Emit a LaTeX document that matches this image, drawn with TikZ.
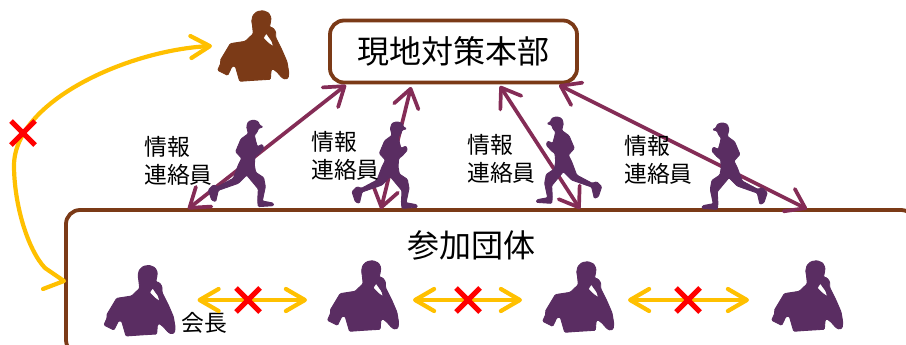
\documentclass[tikz,border=0pt]{standalone}
\usepackage{fontspec}
\setmainfont{Noto Sans CJK JP}
\usetikzlibrary{arrows.meta,shapes.misc}
\definecolor{boxbrown}{HTML}{7B3A17}
\definecolor{figpurple}{HTML}{5A2D62}
\definecolor{arrowplum}{HTML}{842C56}
\definecolor{linkyellow}{HTML}{FFC000}
\tikzset{
  x=1pt,y=-1pt,
  roundbox/.style={draw=boxbrown,line width=3.8pt,rounded corners=14pt,fill=white,inner sep=0pt,outer sep=0pt},
  infolink/.style={draw=arrowplum,line width=3.7pt,
    arrows={Straight Barb[length=18pt,width=25pt,round]-Straight Barb[length=18pt,width=25pt,round]}},
  blocline/.style={draw=linkyellow,line width=4.2pt,line cap=round,line join=round},
  bloc/.style={blocline,
    arrows={Straight Barb[length=19pt,width=22pt,round]-Straight Barb[length=19pt,width=22pt,round]}},
  nogo/.style={cross out,draw=red,line width=5pt,minimum size=24pt,inner sep=0pt,outer sep=0pt},
  lab/.style={font=\fontsize{22.8}{27.5}\selectfont,align=left,inner sep=0pt,anchor=west},
  big/.style={font=\fontsize{32}{34}\selectfont,inner sep=0pt},
  figp/.style={fill=figpurple,draw=figpurple,line width=.9pt},
  figb/.style={fill=boxbrown,draw=boxbrown,line width=.9pt},
  person/.pic={
    \path[pic actions,even odd rule,rounded corners=1.1pt]
      (119,100) -- (116,72) -- (114,62) -- (118,45) -- (130,34) -- (148,31) -- (165,38) -- (172,52)
      -- (170,68) -- (167,80) -- (178,83) -- (186,95) -- (186,112) -- (205,150) -- (220,185) -- (225,215)
      -- (224,232) -- (215,237) -- (205,232) -- (190,215) -- (177,205) -- (172,210) -- (170,237)
      -- (120,240) -- (78,243) -- (65,198) -- (55,198) -- (42,225) -- (12,210) -- (22,187) -- (20,180)
      -- (35,155) -- (50,130) -- (95,123) -- cycle
      (148,113) -- (158,98) -- (166,110) -- (175,122) -- (180,140) -- (165,130) -- cycle;
  },
  runner/.pic={
    \path[pic actions,rounded corners=1.1pt]
      (145,15) -- (160,20) -- (163,30) -- (174,36) -- (160,40) -- (156,52) -- (148,60) -- (152,78)
      -- (157,95) -- (172,88) -- (176,100) -- (160,118) -- (150,125) -- (148,150) -- (152,172)
      -- (176,188) -- (181,215) -- (172,258) -- (204,264) -- (206,272) -- (160,275) -- (158,258)
      -- (160,222) -- (125,180) -- (100,205) -- (40,226) -- (32,260) -- (20,255) -- (10,225)
      -- (25,210) -- (38,215) -- (85,190) -- (100,150) -- (110,130) -- (92,110) -- (108,72)
      -- (130,56) -- (125,35) -- (130,20) -- cycle;
  },
}
\begin{document}
\begin{tikzpicture}
\useasboundingbox (0,0) rectangle (906,345);
\clip (0,0) rectangle (906,345);
\node[roundbox,minimum width=247pt,minimum height=62pt] (hq) at (453.5,51.5) {};
\node[big] (hqt) at (hq.center) {現地対策本部};
\node[roundbox,minimum width=849pt,minimum height=144pt] (org) at (490.5,282) {};
\node[big] (orgt) at (471,245) {参加団体};

\coordinate (a1t) at (346,85); \coordinate (a1b) at (188,209);
\coordinate (a2t) at (411,87); \coordinate (a2b) at (381,209);
\coordinate (a3t) at (500,86); \coordinate (a3b) at (580,209);
\coordinate (a4t) at (559,85); \coordinate (a4b) at (807,209);
\draw[infolink] (a1t) -- (a1b);
\draw[infolink] (a2t) -- (a2b);
\draw[infolink] (a3t) -- (a3b);
\draw[infolink] (a4t) -- (a4b);

\pic[figp,scale=1/3] at (205,115) {runner};
\pic[figp,scale=1/3] at (348.7,116.7) {runner};
\pic[figp,xscale=-1/3,yscale=1/3] at (605,111.7) {runner};
\pic[figp,xscale=-1/3,yscale=1/3] at (770.6,117.7) {runner};

\pic[figb,scale=1/3] at (213.7,0.3) {person};
\pic[figp,scale=1/3] at (100,255) {person};
\pic[figp,scale=1/3] at (323.5,250.3) {person};
\pic[figp,scale=1/3] at (538.7,251.3) {person};
\pic[figp,scale=1/3] at (767.7,250.3) {person};

\node[lab] (t1) at (144,161) {情報\\連絡員};
\node[lab] (t2) at (311,156) {情報\\連絡員};
\node[lab] (t3) at (467,159) {情報\\連絡員};
\node[lab] (t4) at (624,160) {情報\\連絡員};
\node[lab] (t5) at (181,323) {会長};

\coordinate (y1a) at (212,46); \coordinate (y1b) at (64,281);
\coordinate (y1u) at (45,268); \coordinate (y1l) at (43,289);
\draw[blocline,arrows={Straight Barb[length=19pt,width=22pt,round]-}] (y1a) .. controls (130,50) and (15,100) .. (14,165) .. controls (14,205) and (28,250) .. (y1u) -- (y1b) -- (y1l);
\coordinate (y2a) at (197.5,300); \coordinate (y2b) at (307,300);
\coordinate (y3a) at (413,300); \coordinate (y3b) at (522,300);
\coordinate (y4a) at (628,300); \coordinate (y4b) at (749,300);
\draw[bloc] (y2a) -- (y2b);
\draw[bloc] (y3a) -- (y3b);
\draw[bloc] (y4a) -- (y4b);

\node[nogo] (x0) at (23,133) {};
\node[nogo] (x1) at (248,300) {};
\node[nogo] (x2) at (468,300) {};
\node[nogo] (x3) at (688,300) {};
\end{tikzpicture}
\end{document}
